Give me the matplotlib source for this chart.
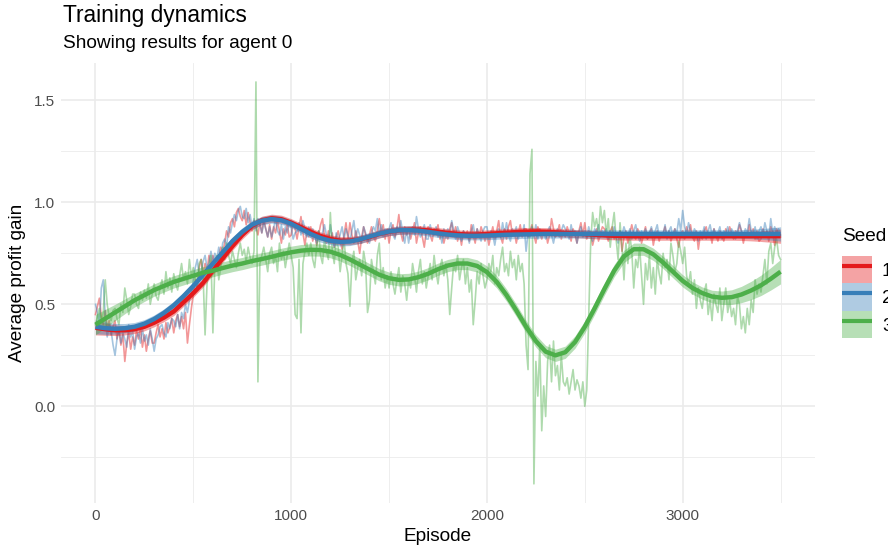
import matplotlib.pyplot as plt
from matplotlib.patches import Patch
from matplotlib.lines import Line2D
from matplotlib.legend_handler import HandlerTuple

plt.rcParams["font.family"] = ["Liberation Sans", "DejaVu Sans"]

# Raw average profit gain, one value every 10 episodes
episodes = list(range(0, 3501, 10))

seed1_gain = [
    0.45, 0.49, 0.53, 0.44, 0.40, 0.47, 0.38, 0.42, 0.35, 0.39,
    0.42, 0.33, 0.38, 0.30, 0.35, 0.22, 0.31, 0.36, 0.28, 0.34,
    0.30, 0.37, 0.33, 0.38, 0.29, 0.35, 0.27, 0.33, 0.37, 0.31,
    0.31, 0.36, 0.40, 0.34, 0.38, 0.33, 0.41, 0.36, 0.39, 0.43,
    0.36, 0.42, 0.45, 0.39, 0.44, 0.38, 0.46, 0.31, 0.40, 0.48,
    0.55, 0.62, 0.58, 0.68, 0.72, 0.65, 0.70, 0.66, 0.74, 0.69,
    0.74, 0.70, 0.66, 0.72, 0.78, 0.75, 0.80, 0.86, 0.83, 0.90,
    0.92, 0.88, 0.95, 0.97, 0.93, 0.91, 0.96, 0.89, 0.95, 0.90,
    0.86, 0.91, 0.88, 0.84, 0.90, 0.85, 0.92, 0.87, 0.83, 0.89,
    0.82, 0.88, 0.85, 0.91, 0.86, 0.80, 0.87, 0.84, 0.89, 0.83,
    0.84, 0.90, 0.87, 0.82, 0.88, 0.93, 0.85, 0.79, 0.86, 0.83,
    0.88, 0.81, 0.85, 0.79, 0.84, 0.89, 0.92, 0.83, 0.80, 0.86,
    0.80, 0.85, 0.78, 0.83, 0.86, 0.81, 0.77, 0.84, 0.90, 0.82,
    0.90, 0.84, 0.80, 0.86, 0.81, 0.75, 0.83, 0.88, 0.84, 0.80,
    0.84, 0.88, 0.83, 0.81, 0.86, 0.92, 0.85, 0.89, 0.82, 0.87,
    0.80, 0.86, 0.89, 0.83, 0.87, 0.94, 0.85, 0.81, 0.88, 0.84,
    0.87, 0.82, 0.86, 0.90, 0.80, 0.85, 0.88, 0.83, 0.78, 0.86,
    0.88, 0.84, 0.81, 0.87, 0.85, 0.89, 0.82, 0.86, 0.80, 0.84,
    0.82, 0.87, 0.90, 0.84, 0.88, 0.81, 0.85, 0.79, 0.86, 0.83,
    0.86, 0.81, 0.89, 0.84, 0.80, 0.87, 0.83, 0.88, 0.85, 0.81,
    0.85, 0.79, 0.84, 0.88, 0.82, 0.86, 0.91, 0.83, 0.80, 0.87,
    0.82, 0.88, 0.91, 0.84, 0.86, 0.80, 0.85, 0.89, 0.83, 0.87,
    0.87, 0.83, 0.86, 0.89, 0.84, 0.80, 0.88, 0.85, 0.82, 0.86,
    0.86, 0.80, 0.84, 0.92, 0.87, 0.83, 0.85, 0.89, 0.82, 0.86,
    0.83, 0.88, 0.85, 0.81, 0.87, 0.84, 0.80, 0.86, 0.90, 0.84,
    0.90, 0.82, 0.86, 0.85, 0.79, 0.83, 0.87, 0.81, 0.85, 0.88,
    0.87, 0.84, 0.81, 0.86, 0.88, 0.82, 0.85, 0.83, 0.86, 0.76,
    0.83, 0.86, 0.80, 0.85, 0.89, 0.84, 0.82, 0.87, 0.85, 0.80,
    0.84, 0.88, 0.82, 0.85, 0.87, 0.79, 0.84, 0.86, 0.81, 0.85,
    0.85, 0.88, 0.83, 0.86, 0.81, 0.84, 0.87, 0.82, 0.78, 0.85,
    0.86, 0.82, 0.88, 0.84, 0.89, 0.83, 0.81, 0.86, 0.77, 0.84,
    0.82, 0.86, 0.88, 0.83, 0.85, 0.80, 0.87, 0.84, 0.81, 0.86,
    0.84, 0.81, 0.87, 0.83, 0.88, 0.85, 0.82, 0.86, 0.84, 0.89,
    0.86, 0.80, 0.85, 0.83, 0.89, 0.84, 0.87, 0.82, 0.86, 0.81,
    0.82, 0.87, 0.84, 0.86, 0.81, 0.88, 0.85, 0.79, 0.87, 0.84,
    0.83,
]

seed2_gain = [
    0.50, 0.46, 0.40, 0.58, 0.62, 0.44, 0.34, 0.40, 0.37, 0.30,
    0.25, 0.33, 0.38, 0.31, 0.36, 0.33, 0.29, 0.40, 0.34, 0.37,
    0.28, 0.34, 0.36, 0.31, 0.38, 0.32, 0.35, 0.30, 0.38, 0.33,
    0.27, 0.33, 0.35, 0.39, 0.40, 0.36, 0.34, 0.41, 0.38, 0.43,
    0.42, 0.39, 0.45, 0.38, 0.46, 0.43, 0.50, 0.46, 0.52, 0.55,
    0.62, 0.68, 0.72, 0.64, 0.66, 0.71, 0.74, 0.68, 0.70, 0.76,
    0.70, 0.75, 0.72, 0.78, 0.72, 0.80, 0.82, 0.78, 0.88, 0.85,
    0.90, 0.94, 0.91, 0.96, 0.98, 0.93, 0.92, 0.97, 0.90, 0.94,
    0.88, 0.92, 0.86, 0.92, 0.89, 0.85, 0.90, 0.87, 0.83, 0.88,
    0.83, 0.87, 0.92, 0.86, 0.84, 0.89, 0.82, 0.88, 0.85, 0.90,
    0.88, 0.82, 0.85, 0.86, 0.90, 0.84, 0.91, 0.87, 0.83, 0.88,
    0.83, 0.87, 0.84, 0.80, 0.86, 0.82, 0.85, 0.89, 0.84, 0.80,
    0.89, 0.83, 0.78, 0.85, 0.81, 0.84, 0.88, 0.82, 0.87, 0.84,
    0.81, 0.86, 0.91, 0.83, 0.87, 0.84, 0.80, 0.88, 0.85, 0.82,
    0.80, 0.85, 0.88, 0.86, 0.92, 0.84, 0.89, 0.83, 0.87, 0.85,
    0.87, 0.90, 0.84, 0.82, 0.88, 0.86, 0.91, 0.85, 0.80, 0.87,
    0.80, 0.86, 0.88, 0.84, 0.93, 0.87, 0.83, 0.85, 0.89, 0.82,
    0.82, 0.89, 0.85, 0.84, 0.88, 0.83, 0.86, 0.80, 0.87, 0.84,
    0.87, 0.84, 0.91, 0.86, 0.82, 0.88, 0.85, 0.81, 0.86, 0.84,
    0.85, 0.80, 0.86, 0.89, 0.83, 0.87, 0.84, 0.81, 0.86, 0.88,
    0.88, 0.82, 0.86, 0.84, 0.79, 0.85, 0.87, 0.83, 0.90, 0.84,
    0.90, 0.84, 0.81, 0.87, 0.85, 0.88, 0.82, 0.86, 0.84, 0.89,
    0.76, 0.85, 0.83, 0.88, 0.84, 0.89, 0.82, 0.87, 0.84, 0.86,
    0.82, 0.86, 0.88, 0.84, 0.80, 0.85, 0.87, 0.83, 0.86, 0.89,
    0.87, 0.85, 0.82, 0.89, 0.84, 0.86, 0.80, 0.85, 0.88, 0.83,
    0.86, 0.83, 0.88, 0.84, 0.81, 0.87, 0.85, 0.89, 0.83, 0.86,
    0.85, 0.87, 0.82, 0.86, 0.84, 0.88, 0.83, 0.80, 0.86, 0.84,
    0.88, 0.85, 0.83, 0.87, 0.82, 0.86, 0.89, 0.84, 0.81, 0.86,
    0.83, 0.87, 0.82, 0.85, 0.88, 0.84, 0.86, 0.89, 0.83, 0.85,
    0.84, 0.89, 0.82, 0.86, 0.88, 0.83, 0.87, 0.85, 0.92, 0.86,
    0.96, 0.88, 0.84, 0.90, 0.86, 0.83, 0.87, 0.85, 0.81, 0.86,
    0.84, 0.88, 0.82, 0.86, 0.89, 0.84, 0.87, 0.83, 0.85, 0.88,
    0.82, 0.86, 0.84, 0.88, 0.83, 0.87, 0.85, 0.82, 0.86, 0.90,
    0.86, 0.83, 0.87, 0.85, 0.92, 0.86, 0.84, 0.88, 0.82, 0.86,
    0.88, 0.84, 0.90, 0.86, 0.83, 0.92, 0.85, 0.88, 0.84, 0.87,
    0.84,
]

seed3_gain = [
    0.40, 0.44, 0.48, 0.42, 0.46, 0.62, 0.50, 0.44, 0.42, 0.47,
    0.48, 0.43, 0.40, 0.50, 0.46, 0.58, 0.52, 0.45, 0.49, 0.55,
    0.55, 0.50, 0.48, 0.56, 0.52, 0.57, 0.53, 0.60, 0.50, 0.55,
    0.60, 0.54, 0.52, 0.58, 0.62, 0.55, 0.66, 0.58, 0.63, 0.56,
    0.65, 0.60, 0.57, 0.64, 0.70, 0.62, 0.66, 0.60, 0.72, 0.64,
    0.68, 0.62, 0.58, 0.70, 0.72, 0.64, 0.35, 0.60, 0.68, 0.74,
    0.36, 0.70, 0.74, 0.62, 0.68, 0.78, 0.72, 0.80, 0.74, 0.70,
    0.76, 0.72, 0.68, 0.75, 0.80, 0.74, 0.77, 0.71, 0.78, 0.73,
    0.70, 0.76, 1.59, 0.12, 0.70, 0.74, 0.78, 0.72, 0.66, 0.75,
    0.78, 0.70, 0.74, 0.66, 0.80, 0.72, 0.76, 0.68, 0.74, 0.80,
    0.74, 0.68, 0.45, 0.43, 0.72, 0.36, 0.70, 0.76, 0.80, 0.74,
    0.80, 0.72, 0.68, 0.78, 0.86, 0.74, 0.70, 0.82, 0.76, 0.72,
    0.95, 0.76, 0.70, 0.82, 0.78, 0.66, 0.74, 0.82, 0.70, 0.65,
    0.49, 0.70, 0.76, 0.62, 0.68, 0.72, 0.64, 0.76, 0.70, 0.46,
    0.52, 0.72, 0.66, 0.60, 0.74, 0.80, 0.62, 0.68, 0.58, 0.64,
    0.58, 0.66, 0.60, 0.55, 0.62, 0.68, 0.56, 0.64, 0.60, 0.52,
    0.62, 0.58, 0.70, 0.64, 0.56, 0.66, 0.72, 0.60, 0.66, 0.58,
    0.64, 0.70, 0.62, 0.74, 0.66, 0.60, 0.68, 0.72, 0.64, 0.70,
    0.62, 0.45, 0.58, 0.70, 0.66, 0.74, 0.62, 0.68, 0.72, 0.60,
    0.68, 0.56, 0.62, 0.40, 0.52, 0.66, 0.60, 0.70, 0.64, 0.58,
    0.62, 0.70, 0.66, 0.74, 0.60, 0.68, 0.64, 0.72, 0.78, 0.66,
    0.70, 0.64, 0.76, 0.68, 0.72, 0.62, 0.74, 0.66, 0.70, 0.60,
    0.30, 0.18, 1.14, 1.26, -0.38, 0.22, 0.05, 0.30, -0.12, 0.10,
    -0.05, 0.22, 0.30, 0.12, 0.32, 0.15, 0.20, 0.08, 0.25, 0.12,
    0.10, 0.14, 0.06, 0.12, 0.18, 0.08, 0.13, 0.10, 0.04, 0.12,
    0.00, 0.08, 0.45, 0.80, 0.95, 0.88, 0.92, 0.85, 0.98, 0.90,
    0.96, 0.84, 0.92, 0.78, 0.88, 0.95, 0.82, 0.72, 0.90, 0.78,
    0.62, 0.80, 0.70, 0.84, 0.76, 0.58, 0.72, 0.68, 0.78, 0.64,
    0.50, 0.70, 0.62, 0.74, 0.58, 0.68, 0.55, 0.72, 0.65, 0.60,
    0.75, 0.68, 0.72, 0.62, 0.80, 0.74, 0.66, 0.70, 0.81, 0.76,
    0.70, 0.78, 0.64, 0.60, 0.66, 0.55, 0.62, 0.48, 0.58, 0.52,
    0.48, 0.56, 0.60, 0.45, 0.52, 0.42, 0.55, 0.50, 0.46, 0.58,
    0.42, 0.50, 0.58, 0.46, 0.52, 0.44, 0.48, 0.40, 0.54, 0.50,
    0.38, 0.44, 0.36, 0.48, 0.40, 0.52, 0.46, 0.62, 0.55, 0.60,
    0.56, 0.64, 0.72, 0.60, 0.76, 0.80, 0.70, 0.78, 0.82, 0.74,
    0.72,
]

# Smoothed fits (every 50 episodes) and half-width of their confidence bands
smooth_episodes = list(range(0, 3501, 50))

seed1_fit = [
    0.385, 0.378, 0.373, 0.373, 0.378, 0.390, 0.410, 0.435, 0.465, 0.510,
    0.555, 0.605, 0.665, 0.725, 0.785, 0.840, 0.885, 0.912, 0.922, 0.917,
    0.900, 0.878, 0.855, 0.835, 0.820, 0.812, 0.812, 0.818, 0.830, 0.845,
    0.856, 0.863, 0.866, 0.866, 0.862, 0.856, 0.850, 0.845, 0.842, 0.842,
    0.845, 0.848, 0.851, 0.854, 0.856, 0.857, 0.856, 0.853, 0.850, 0.847,
    0.844, 0.841, 0.838, 0.836, 0.835, 0.834, 0.834, 0.834, 0.834, 0.834,
    0.834, 0.834, 0.834, 0.834, 0.834, 0.834, 0.834, 0.834, 0.834, 0.834,
    0.834,
]

seed2_fit = [
    0.390, 0.383, 0.380, 0.383, 0.390, 0.405, 0.428, 0.458, 0.495, 0.540,
    0.590, 0.645, 0.700, 0.755, 0.810, 0.855, 0.890, 0.910, 0.918, 0.912,
    0.895, 0.870, 0.845, 0.825, 0.812, 0.806, 0.808, 0.818, 0.832, 0.846,
    0.857, 0.863, 0.864, 0.861, 0.855, 0.848, 0.842, 0.838, 0.836, 0.836,
    0.837, 0.839, 0.841, 0.842, 0.843, 0.844, 0.845, 0.845, 0.845, 0.845,
    0.845, 0.845, 0.845, 0.845, 0.845, 0.845, 0.845, 0.845, 0.845, 0.845,
    0.845, 0.845, 0.845, 0.845, 0.845, 0.845, 0.845, 0.845, 0.845, 0.845,
    0.845,
]

seed3_fit = [
    0.400, 0.430, 0.460, 0.490, 0.520, 0.545, 0.570, 0.590, 0.610, 0.625,
    0.640, 0.655, 0.665, 0.678, 0.690, 0.700, 0.712, 0.722, 0.733, 0.745,
    0.755, 0.763, 0.767, 0.766, 0.758, 0.742, 0.720, 0.695, 0.670, 0.645,
    0.628, 0.620, 0.622, 0.633, 0.650, 0.672, 0.690, 0.700, 0.700, 0.688,
    0.658, 0.610, 0.545, 0.470, 0.390, 0.320, 0.268, 0.250, 0.265, 0.315,
    0.390, 0.480, 0.575, 0.665, 0.735, 0.770, 0.770, 0.745, 0.705, 0.660,
    0.615, 0.580, 0.555, 0.538, 0.532, 0.535, 0.548, 0.568, 0.593, 0.625,
    0.660,
]

seed12_band = [
    0.035, 0.030, 0.026, 0.023, 0.021, 0.020, 0.020, 0.020, 0.020, 0.020,
    0.020, 0.020, 0.020, 0.020, 0.020, 0.020, 0.020, 0.020, 0.020, 0.020,
    0.020, 0.020, 0.020, 0.020, 0.020, 0.020, 0.020, 0.020, 0.020, 0.020,
    0.020, 0.020, 0.020, 0.020, 0.020, 0.020, 0.020, 0.020, 0.020, 0.020,
    0.020, 0.020, 0.020, 0.020, 0.020, 0.020, 0.020, 0.020, 0.020, 0.020,
    0.020, 0.020, 0.020, 0.020, 0.020, 0.020, 0.020, 0.020, 0.020, 0.020,
    0.020, 0.020, 0.020, 0.020, 0.020, 0.020, 0.021, 0.023, 0.026, 0.030,
    0.035,
]

seed3_band = [
    0.050, 0.045, 0.040, 0.036, 0.033, 0.031, 0.030, 0.030, 0.030, 0.030,
    0.030, 0.030, 0.030, 0.030, 0.030, 0.030, 0.030, 0.030, 0.030, 0.030,
    0.030, 0.030, 0.030, 0.030, 0.030, 0.030, 0.030, 0.030, 0.030, 0.030,
    0.030, 0.030, 0.030, 0.030, 0.030, 0.030, 0.030, 0.030, 0.030, 0.030,
    0.030, 0.030, 0.030, 0.030, 0.030, 0.030, 0.030, 0.030, 0.030, 0.030,
    0.030, 0.030, 0.030, 0.030, 0.030, 0.030, 0.030, 0.030, 0.030, 0.030,
    0.030, 0.030, 0.030, 0.031, 0.033, 0.036, 0.040, 0.045, 0.050, 0.055,
    0.060,
]

seeds = ["1", "2", "3"]
colors = ["#E41A1C", "#377EB8", "#4DAF4A"]
raw_series = [seed1_gain, seed2_gain, seed3_gain]
fit_series = [seed1_fit, seed2_fit, seed3_fit]
band_series = [seed12_band, seed12_band, seed3_band]

fig = plt.figure(figsize=(8.88, 5.54), dpi=100)
ax = fig.add_axes([61 / 888, 1 - 503 / 554, (815 - 61) / 888, (503 - 63) / 554])

# Raw traces
for gain, c in zip(raw_series, colors):
    ax.plot(episodes, gain, color=c, alpha=0.45, lw=1.2, zorder=2)

# Smoothed fits with confidence ribbons
for fit, band, c in zip(fit_series, band_series, colors):
    lo = [f - b for f, b in zip(fit, band)]
    hi = [f + b for f, b in zip(fit, band)]
    ax.fill_between(smooth_episodes, lo, hi, color=c, alpha=0.4, lw=0, zorder=3)
    ax.plot(smooth_episodes, fit, color=c, lw=3.2, zorder=4,
            solid_capstyle="butt")

# Axes in a minimal style
ax.set_xlim(-176, 3676)
ax.set_ylim(-0.474, 1.683)
ax.set_xticks([0, 1000, 2000, 3000])
ax.set_xticks([500, 1500, 2500, 3500], minor=True)
ax.set_yticks([0.0, 0.5, 1.0, 1.5])
ax.set_yticklabels(["0.0", "0.5", "1.0", "1.5"])
ax.set_yticks([-0.25, 0.25, 0.75, 1.25], minor=True)
ax.grid(which="major", color="#EBEBEB", lw=1.2)
ax.grid(which="minor", color="#EBEBEB", lw=0.6)
ax.set_axisbelow(True)
for s in ax.spines.values():
    s.set_visible(False)
ax.tick_params(which="both", length=0, labelsize=11, labelcolor="#4D4D4D", pad=4)

ax.set_xlabel("Episode", fontsize=13.7, labelpad=4)
ax.set_ylabel("Average profit gain", fontsize=13.7, labelpad=6)

fig.text(63 / 888, 1 - 22 / 554, "Training dynamics", fontsize=16.4,
         va="baseline", ha="left")
fig.text(63 / 888, 1 - 48 / 554, "Showing results for agent 0", fontsize=13.7,
         va="baseline", ha="left")

# Legend: ribbon fill with the fit line on top
handles = [(Patch(facecolor=c, alpha=0.4, lw=0),
            Line2D([], [], color=c, lw=3.0, solid_capstyle="butt"))
           for c in colors]
leg = fig.legend(handles, seeds, title="Seed", loc="center left",
                 bbox_to_anchor=(842 / 888, 1 - 283 / 554), frameon=False,
                 fontsize=13.7, title_fontsize=13.7, alignment="left",
                 handlelength=1.6, handleheight=1.85, labelspacing=0.0,
                 handletextpad=0.5, borderpad=0, borderaxespad=0,
                 handler_map={tuple: HandlerTuple(ndivide=1, pad=0)})
leg._legend_box.sep = 8

plt.savefig("out.png", dpi=100)
